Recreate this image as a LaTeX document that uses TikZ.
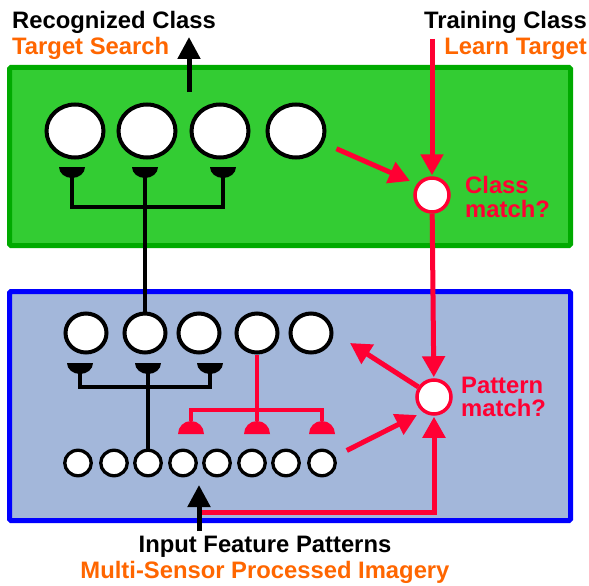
\documentclass[tikz,border=0pt]{standalone}
\usepackage{fontspec}
\setmainfont{Liberation Sans}
\usetikzlibrary{arrows.meta,calc,shapes.geometric}
\definecolor{gfill}{HTML}{33CC33}
\definecolor{gline}{HTML}{00AA00}
\definecolor{bfill}{HTML}{A3B7DA}
\definecolor{bline}{HTML}{0000FF}
\definecolor{myred}{HTML}{FF0033}
\definecolor{myorange}{HTML}{FF6600}
\newcommand\synDown[1]{\fill[black] ($(#1)+(-13,0)$) arc[start angle=180,end angle=0,x radius=13,y radius=11] -- cycle;}
\newcommand\synUp[1]{\fill[myred] ($(#1)+(-13,0)$) arc[start angle=180,end angle=360,x radius=13,y radius=13] -- cycle;}
\begin{document}
\begin{tikzpicture}[x=1pt,y=-1pt,
  neuron/.style 2 args={ellipse,draw=black,fill=white,line width=4pt,inner sep=0pt,minimum width=#1,minimum height=#2},
  matchnode/.style={circle,draw=myred,fill=white,line width=3.5pt,inner sep=0pt,minimum size=34pt},
  wire/.style={black,line width=4pt},
  redwire/.style={myred,line width=4pt},
  redarrow/.style={myred,line width=5pt,-{Triangle[length=21pt,width=22pt]}},
  blackarrow/.style={black,line width=5pt,-{Triangle[length=22pt,width=22pt]}},
  lbl/.style={font=\bfseries\fontsize{23.8}{27}\selectfont,inner sep=0pt,anchor=base west},
  clbl/.style={font=\bfseries\fontsize{23.8}{27}\selectfont,inner sep=0pt,anchor=base}]
\useasboundingbox (0,0) rectangle (589,586);

% boxes
\draw[draw=gline,fill=gfill,line width=5pt,rounded corners=1.5pt] (9.5,67.5) rectangle (570.5,245.5);
\draw[draw=bline,fill=bfill,line width=5pt,rounded corners=1.5pt] (9.5,291.5) rectangle (570.5,520.5);

% synapse positions
\coordinate (s1) at (72,167);
\coordinate (s2) at (145,167);
\coordinate (s3) at (223,167);
\coordinate (l1) at (80,363);
\coordinate (l2) at (148,363);
\coordinate (l3) at (210,363);
\coordinate (r1) at (191,421);
\coordinate (r2) at (257,421);
\coordinate (r3) at (322,421);

% neurons
\node[neuron={57pt}{53pt}] (t1) at (75,131) {};
\node[neuron={57pt}{53pt}] (t2) at (147,131) {};
\node[neuron={57pt}{53pt}] (t3) at (220,131) {};
\node[neuron={57pt}{53pt}] (t4) at (296,131) {};

\node[neuron={41pt}{39pt}] (m1) at (86,333) {};
\node[neuron={41pt}{39pt}] (m2) at (145,333) {};
\node[neuron={41pt}{39pt}] (m3) at (199,333) {};
\node[neuron={41pt}{39pt}] (m4) at (257,333) {};
\node[neuron={41pt}{39pt}] (m5) at (311,333) {};

% black wiring
\draw[wire] (s1) -- ++(0,40) -| (s3);
\draw[wire] (s2) -- (m2);
\draw[wire] (l1) -- ++(0,24) -| (l3);

\foreach \i/\x in {1/78,2/114,3/148,4/183,5/217,6/252,7/286,8/322}
  \node[neuron={26.5pt}{25.5pt},line width=3.3pt] (b\i) at (\x,463) {};

\draw[wire] (l2) -- (b3);

% red wiring
\draw[redwire] (m4) -- (r2);
\draw[redwire] (r1) -- ++(0,-11) -| (r3);

% synapses
\synDown{s1}\synDown{s2}\synDown{s3}
\synDown{l1}\synDown{l2}\synDown{l3}
\synUp{191,434}\synUp{257,434}\synUp{322,434}

\node[matchnode] (cm) at (432,195) {};
\node[matchnode] (pm) at (434,397) {};

% arrows
\coordinate (rcS) at (189,92);
\coordinate (rcE) at (189,37);
\draw[blackarrow] (rcS) -- (rcE);

\coordinate (trS) at (432,39);
\draw[redarrow,shorten >=1pt] (trS) -- (cm);
\coordinate (cmNW) at (410,181);
\draw[redarrow,shorten <=14pt] (t4) -- (cmNW);
\draw[redarrow,shorten >=1pt] (cm) -- (pm);
\coordinate (fbT) at (350,343);
\draw[redarrow] (pm) -- (fbT);
\coordinate (pmSW) at (417,415);
\draw[redarrow,shorten <=13pt] (b8) -- (pmSW);

\coordinate (inJ) at (199,512);
\draw[redarrow,shorten >=1pt] (inJ) -| (pm);
\coordinate (inS) at (199,531);
\coordinate (inE) at (199,485);
\draw[blackarrow] (inS) -- (inE);

% labels
\node[lbl] (rc) at (12,28.5) {Recognized Class};
\node[lbl,text=myorange] (ts) at (12,54.5) {Target Search};
\node[lbl,anchor=base east] (tc) at (587,29) {Training Class};
\node[lbl,anchor=base east,text=myorange] (lt) at (587,54.5) {Learn Target};
\node[lbl,text=myred] (cl1) at (465,193) {Class};
\node[lbl,text=myred] (cl2) at (465,217) {match?};
\node[lbl,text=myred] (pl1) at (461,393) {Pattern};
\node[lbl,text=myred] (pl2) at (461,416) {match?};
\node[clbl] (ifp) at (265,552) {Input Feature Patterns};
\node[clbl,text=myorange] (msp) at (265,578) {Multi-Sensor Processed Imagery};
\end{tikzpicture}
\end{document}
